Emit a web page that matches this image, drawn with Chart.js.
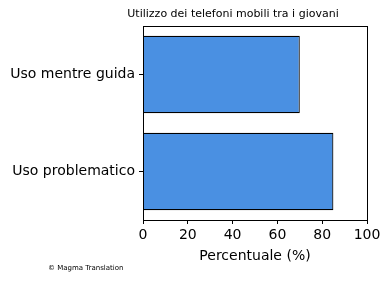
<!DOCTYPE html>
<html>
<head>
<meta charset="utf-8">
<script src="https://cdn.jsdelivr.net/npm/chart.js@4"></script>
<style>
  body { margin: 0; background: #fff; }
  canvas { display: block; }
</style>
</head>
<body>
<canvas id="usoChart" width="390" height="282"></canvas>
<script>
const categories = ["Uso mentre guida", "Uso problematico"];
const percentuali = [70, 85];
const xTicks = [0, 20, 40, 60, 80, 100];

const font = "'DejaVu Sans', sans-serif";

// frame round the plot, title and footer
const extras = {
  id: "extras",
  afterDatasetsDraw(chart) {
    const ctx = chart.ctx;
    const a = chart.chartArea;
    ctx.save();
    ctx.strokeStyle = "#000";
    ctx.lineWidth = 1;
    ctx.strokeRect(Math.round(a.left) + 0.5, Math.round(a.top) + 0.5,
      Math.round(a.right - a.left), Math.round(a.bottom - a.top));
    ctx.fillStyle = "#000";
    ctx.textAlign = "center";
    ctx.textBaseline = "middle";
    ctx.font = "11px " + font;
    ctx.fillText("Utilizzo dei telefoni mobili tra i giovani", 233, 14);
    ctx.textAlign = "left";
    ctx.font = "7px " + font;
    ctx.fillText("\u00a9 Magma Translation", 48, 268.5);
    ctx.restore();
  }
};

new Chart(document.getElementById("usoChart"), {
  type: "bar",
  data: {
    labels: categories,
    datasets: [{
      data: percentuali,
      backgroundColor: "#4a90e2",
      borderColor: "#000",
      borderWidth: 1.2,
      barPercentage: 0.8,
      categoryPercentage: 1
    }]
  },
  options: {
    indexAxis: "y",
    responsive: false,
    animation: false,
    layout: { padding: { left: 0, right: 23, top: 26, bottom: 0 } },
    plugins: { legend: { display: false }, tooltip: { enabled: false } },
    scales: {
      x: {
        min: 0,
        max: 100,
        afterFit(scale) { scale.height = 62; },
        afterBuildTicks(scale) { scale.ticks = xTicks.map(v => ({ value: v })); },
        grid: { drawOnChartArea: false, tickLength: 4, tickColor: "#000" },
        border: { display: false },
        ticks: { color: "#000", font: { family: font, size: 14 }, padding: 3, maxRotation: 0 },
        title: {
          display: true,
          text: "Percentuale (%)",
          color: "#000",
          font: { family: font, size: 14 },
          padding: { top: 0, bottom: 17 }
        }
      },
      y: {
        afterFit(scale) { scale.width = 143; },
        grid: { drawOnChartArea: false, tickLength: 4, tickColor: "#000", offset: false },
        border: { display: false },
        ticks: { color: "#000", font: { family: font, size: 14 }, padding: 4 }
      }
    }
  },
  plugins: [extras]
});
</script>
</body>
</html>
